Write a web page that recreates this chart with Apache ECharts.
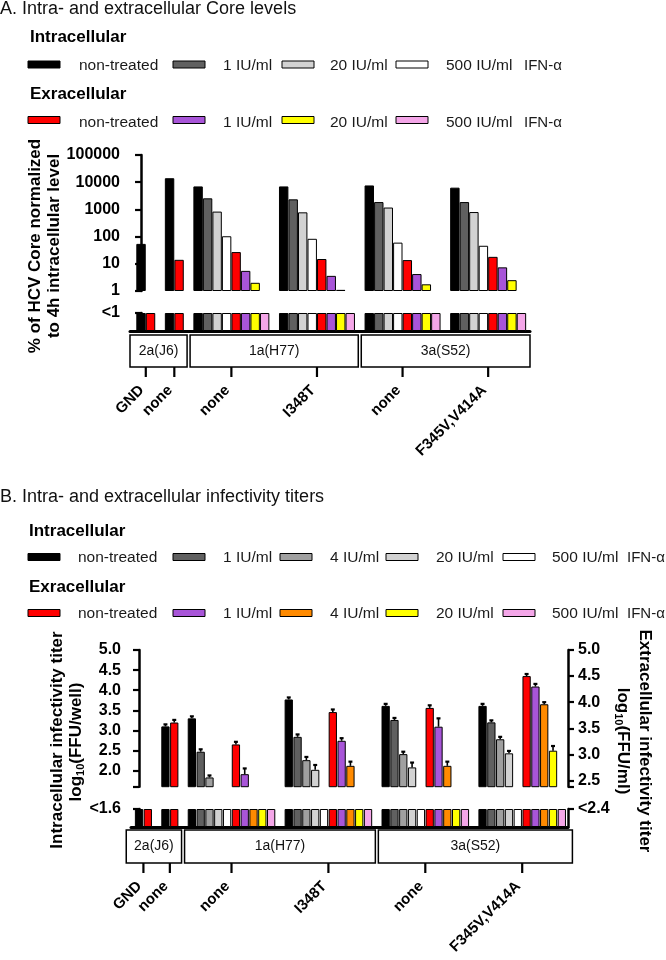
<!DOCTYPE html>
<html><head><meta charset="utf-8">
<script src="https://cdn.jsdelivr.net/npm/echarts@6/dist/echarts.min.js"></script>
<style>html,body{margin:0;padding:0;background:#fff}#c{width:666px;height:960px}</style>
</head><body><div id="c"></div>
<script>
// ================= DATA =================
const groupLabels = ['GND', 'none', 'none', 'I348T', 'none', 'F345V,V414A'];
const groupStrain = ['2a(J6)', '2a(J6)', '1a(H77)', '1a(H77)', '3a(S52)', '3a(S52)'];
const strains = ['2a(J6)', '1a(H77)', '3a(S52)'];

// Panel A: % of HCV Core normalized to 4h intracellular level
// 0 = below 1 ("<1"), null = not tested
const coreIntraNT  = [54, 14000, 7000, 7000, 7600, 6300];
const coreIntra1   = [null, null, 2550, 2340, 1860, 1860];
const coreIntra20  = [null, null, 830, 780, 1170, 800];
const coreIntra500 = [null, null, 103, 83, 60, 46];
const coreExtraNT  = [0, 14, 27, 15, 13.7, 18];
const coreExtra1   = [null, null, 5.5, 3.6, 4.2, 7.4];
const coreExtra20  = [null, null, 2.0, 1.1, 1.76, 2.5];
const coreExtra500 = [null, null, 0, 0, 0, 0];
const coreLegend = ['non-treated', '1 IU/ml', '20 IU/ml', '500 IU/ml'];

// Panel B: log10 infectivity titers (0 = below detection, null = not tested)
const titIntraNT  = [0, 3.10, 3.30, 3.77, 3.61, 3.61];
const titIntra1   = [null, null, 2.47, 2.84, 3.26, 3.20];
const titIntra4   = [null, null, 1.83, 2.26, 2.41, 2.78];
const titIntra20  = [null, null, 0, 2.02, 2.08, 2.43];
const titIntra500 = [null, null, 0, 0, 0, 0];
const titExtraNT  = [0, 3.61, 3.19, 3.81, 3.89, 4.50];
const titExtra1   = [null, null, 2.62, 3.26, 3.53, 4.30];
const titExtra4   = [null, null, 0, 2.78, 2.78, 3.96];
const titExtra20  = [null, null, 0, 0, 0, 3.07];
const titExtra500 = [null, null, 0, 0, 0, 0];
// upper error (SEM) of the titers
const errIntraNT  = [0, 0.05, 0.05, 0.05, 0.05, 0.05];
const errIntra1   = [null, null, 0.06, 0.06, 0.05, 0.05];
const errIntra4   = [null, null, 0.05, 0.08, 0.06, 0.06];
const errIntra20  = [null, null, 0, 0.12, 0.12, 0.06];
const errIntra500 = [null, null, 0, 0, 0, 0];
const errExtraNT  = [0, 0.05, 0.05, 0.05, 0.05, 0.04];
const errExtra1   = [null, null, 0.11, 0.05, 0.16, 0.05];
const errExtra4   = [null, null, 0, 0.08, 0.08, 0.04];
const errExtra20  = [null, null, 0, 0, 0, 0.09];
const errExtra500 = [null, null, 0, 0, 0, 0];
const titLegend = ['non-treated', '1 IU/ml', '4 IU/ml', '20 IU/ml', '500 IU/ml'];

const coreTicks = [1, 10, 100, 1000, 10000, 100000];
const titLeftTicks = [2.0, 2.5, 3.0, 3.5, 4.0, 4.5, 5.0];
const titRightTicks = [2.5, 3.0, 3.5, 4.0, 4.5, 5.0];

// ================= STYLE / LAYOUT =================
const FONT = "'Liberation Sans', Arial, Helvetica, sans-serif";
const coreIntraColors = ['#000000', '#606060', '#d2d2d2', '#ffffff'];
const coreExtraColors = ['#ff0000', '#a855d8', '#ffff00', '#f4a6e8'];
const titIntraColors = ['#000000', '#606060', '#a0a0a0', '#d2d2d2', '#ffffff'];
const titExtraColors = ['#ff0000', '#a855d8', '#ff8a00', '#ffff00', '#f4a6e8'];

function assignSlots(list) {
  const nG = list[0].length;
  const slots = list.map(() => new Array(nG).fill(null));
  const ranges = [];
  let s = 0;
  for (let g = 0; g < nG; g++) {
    if (g > 0) s += 1;
    const first = s;
    list.forEach((arr, k) => { if (arr[g] !== null) { slots[k][g] = s; s++; } });
    ranges.push([first, s - 1]);
  }
  return { slots, ranges, total: s };
}

const aList = [coreIntraNT, coreIntra1, coreIntra20, coreIntra500, coreExtraNT, coreExtra1, coreExtra20, coreExtra500];
const aColors = coreIntraColors.concat(coreExtraColors);
const A = assignSlots(aList);
const bList = [titIntraNT, titIntra1, titIntra4, titIntra20, titIntra500, titExtraNT, titExtra1, titExtra4, titExtra20, titExtra500];
const bErr = [errIntraNT, errIntra1, errIntra4, errIntra20, errIntra500, errExtraNT, errExtra1, errExtra4, errExtra20, errExtra500];
const bColors = titIntraColors.concat(titExtraColors);
const B = assignSlots(bList);

const A_XMIN = -1.16, A_XMAX = A.total - 1 + 0.9;
const B_XMIN = -0.91, B_XMAX = B.total - 1 + 0.7;

const series = [];
function bar(data, color, xi, yi, gap) {
  return { type: 'bar', data, xAxisIndex: xi, yAxisIndex: yi, barGap: '-100%', barCategoryGap: gap,
    itemStyle: { color, borderColor: '#000', borderWidth: 1 }, silent: true, clip: true };
}
aList.forEach((arr, k) => {
  const up = [], low = [];
  arr.forEach((v, g) => { const s = A.slots[k][g]; if (s === null) return; low.push([s, 1]); if (v >= 1) up.push([s, v]); });
  series.push(bar(up, aColors[k], 0, 0, '1%'));
  series.push(bar(low, aColors[k], 1, 1, '1%'));
});
const errIntraData = [], errExtraData = [];
bList.forEach((arr, k) => {
  const isExtra = k >= 5;
  const up = [], low = [];
  arr.forEach((v, g) => {
    const s = B.slots[k][g]; if (s === null) return;
    low.push([s, 1]);
    if (v > 0) {
      up.push([s, v]);
      const e = bErr[k][g];
      if (e > 0) (isExtra ? errExtraData : errIntraData).push([s, v, e]);
    }
  });
  series.push(bar(up, bColors[k], 2, isExtra ? 3 : 2, '6%'));
  series.push(bar(low, bColors[k], 3, 4, '6%'));
});
function errRender(params, api) {
  const x = api.value(0), v = api.value(1), e = api.value(2);
  const p0 = api.coord([x, v]), p1 = api.coord([x, v + e]);
  const w = api.size([1, 0])[0] * 0.45;
  return { type: 'group', children: [
    { type: 'line', shape: { x1: p0[0], y1: p0[1], x2: p1[0], y2: p1[1] }, style: { stroke: '#000', lineWidth: 1.6 } },
    { type: 'line', shape: { x1: p1[0] - w / 2, y1: p1[1], x2: p1[0] + w / 2, y2: p1[1] }, style: { stroke: '#000', lineWidth: 2.2 } }
  ] };
}
series.push({ type: 'custom', xAxisIndex: 2, yAxisIndex: 2, data: errIntraData, renderItem: errRender, z: 5, silent: true });
series.push({ type: 'custom', xAxisIndex: 2, yAxisIndex: 3, data: errExtraData, renderItem: errRender, z: 5, silent: true });

const axLine = { show: true, lineStyle: { color: '#000', width: 2.5 } };
const axTick = (vals) => ({ show: true, length: 6, lineStyle: { color: '#000', width: 2.2 }, customValues: vals });
const axLab = (vals, fmt) => ({ show: true, color: '#000', fontFamily: FONT, fontWeight: 'bold', fontSize: 16, margin: 10, customValues: vals, formatter: fmt });
const hiddenX = (gi, min, max) => ({ type: 'value', gridIndex: gi, min, max, show: false });
const baseX = (gi, min, max) => ({ type: 'value', gridIndex: gi, min, max, axisLine: { show: true, onZero: false, lineStyle: { color: '#000', width: 3 } },
  axisTick: { show: false }, axisLabel: { show: false }, splitLine: { show: false } });

const option = {
  animation: false,
  backgroundColor: '#fff',
  grid: [
    { left: 130, top: 155, width: 400, height: 136 },
    { left: 130, top: 313, width: 400, height: 18 },
    { left: 131, top: 650, width: 437, height: 136.7 },
    { left: 131, top: 809, width: 437, height: 18 }
  ],
  xAxis: [
    hiddenX(0, A_XMIN, A_XMAX),
    baseX(1, A_XMIN, A_XMAX),
    hiddenX(2, B_XMIN, B_XMAX),
    baseX(3, B_XMIN, B_XMAX)
  ],
  yAxis: [
    { type: 'log', logBase: 10, gridIndex: 0, min: 1, max: 100000, axisLine: axLine, axisTick: axTick(coreTicks),
      axisLabel: axLab(coreTicks, v => String(Math.round(v))), splitLine: { show: false } },
    { type: 'value', gridIndex: 1, min: 0, max: 1, axisLine: axLine, axisTick: axTick([1]),
      axisLabel: axLab([1], () => '<1'), splitLine: { show: false } },
    { type: 'value', gridIndex: 2, position: 'left', min: 1.6, max: 5.0, axisLine: axLine, axisTick: axTick([1.6].concat(titLeftTicks)),
      axisLabel: axLab(titLeftTicks, v => v.toFixed(1)), splitLine: { show: false } },
    { type: 'value', gridIndex: 2, position: 'right', min: 2.38, max: 5.0, axisLine: axLine, axisTick: axTick([2.38].concat(titRightTicks)),
      axisLabel: axLab(titRightTicks, v => v.toFixed(1)), splitLine: { show: false } },
    { type: 'value', gridIndex: 3, position: 'left', min: 0, max: 1, axisLine: axLine, axisTick: axTick([1]),
      axisLabel: axLab([1], () => '<1.6'), splitLine: { show: false } },
    { type: 'value', gridIndex: 3, position: 'right', min: 0, max: 1, axisLine: axLine, axisTick: axTick([1]),
      axisLabel: axLab([1], () => '<2.4'), splitLine: { show: false } }
  ],
  series
};

const chart = echarts.init(document.getElementById('c'));
chart.setOption(option);

// ================= ANNOTATIONS =================
const G = [];
function txt(text, x, y, o) {
  o = o || {};
  G.push({ type: 'text', x, y, rotation: o.rot || 0, z: 10, silent: true,
    style: { text, x: 0, y: 0, fill: o.color || '#111', fontFamily: FONT, fontSize: o.size || 16, fontWeight: o.weight || 'normal',
      align: o.align || 'left', textAlign: o.align || 'left', verticalAlign: 'middle', textVerticalAlign: 'middle', rich: o.rich } });
}
function legendRow(labels, colors, swX, txX, ifnX, ySw, yTx) {
  labels.forEach((l, i) => {
    G.push({ type: 'rect', shape: { x: swX[i], y: ySw - 3.5, width: 32, height: 7 }, style: { fill: colors[i], stroke: '#000', lineWidth: 1 }, z: 10, silent: true });
    txt(l, txX[i], yTx, { size: 15.5, color: '#1a1a1a' });
  });
  txt('IFN-\u03b1', ifnX, yTx, { size: 15, color: '#1a1a1a' });
}
// Panel A header
txt('A. Intra- and extracellular Core levels', 0, 9, { size: 18 });
txt('Intracellular', 30, 37.5, { size: 17, weight: 'bold', color: '#000' });
legendRow(coreLegend, coreIntraColors, [28, 173, 282, 396], [79, 223, 330, 446], 524, 64.5, 66);
txt('Exracellular', 30, 94, { size: 17, weight: 'bold', color: '#000' });
legendRow(coreLegend, coreExtraColors, [28, 173, 282, 396], [79, 223, 330, 446], 524, 120, 122.5);
// Panel B header
txt('B. Intra- and extracellular infectivity titers', 0, 497, { size: 18 });
txt('Intracellular', 29, 531, { size: 17, weight: 'bold', color: '#000' });
legendRow(titLegend, titIntraColors, [28, 173, 280, 386, 503], [78, 223, 330, 436, 552], 627, 557, 557.5);
txt('Exracellular', 29, 587, { size: 17, weight: 'bold', color: '#000' });
legendRow(titLegend, titExtraColors, [28, 173, 280, 386, 503], [78, 223, 330, 436, 552], 627, 613, 613.5);

// axis titles
const bold17 = { size: 17, weight: 'bold', color: '#000', align: 'center' };
txt('% of HCV Core normalized', 35, 246, Object.assign({ rot: Math.PI / 2 }, bold17));
txt('to 4h intracellular level', 54, 246, Object.assign({ rot: Math.PI / 2 }, bold17));
txt('Intracellular infectivity titer', 57, 740, Object.assign({ rot: Math.PI / 2 }, bold17));
const subRich = { a: { fontSize: 17, fontWeight: 'bold', fontFamily: FONT, fill: '#000', color: '#000' },
  s: { fontSize: 11, fontWeight: 'bold', fontFamily: FONT, fill: '#000', color: '#000', padding: [9, 0, 0, 0] } };
txt('{a|log}{s|10}{a|(FFU/well)}', 76, 742, Object.assign({ rot: Math.PI / 2, rich: subRich }, bold17));
txt('Extracellular infectivity titer', 645, 741, Object.assign({ rot: -Math.PI / 2 }, bold17));
txt('{a|log}{s|10}{a|(FFU/ml)}', 623, 741, Object.assign({ rot: -Math.PI / 2, rich: subRich }, bold17));

// strain boxes, group ticks and group labels, positioned through the x axes
function panelAnnot(P, xi, xStart, xEnd, boxTop, boxH) {
  const px = s => chart.convertToPixel({ xAxisIndex: xi }, s);
  const boxBottom = boxTop + boxH;
  strains.forEach((st, si) => {
    const gs = groupStrain.map((v, i) => v === st ? i : -1).filter(i => i >= 0);
    const first = P.ranges[gs[0]][0], last = P.ranges[gs[gs.length - 1]][1];
    const x0 = si === 0 ? px(xStart) : px(first - 1) + 1.5;
    const x1 = si === strains.length - 1 ? px(xEnd) : px(last + 1) - 1.5;
    G.push({ type: 'rect', shape: { x: x0, y: boxTop, width: x1 - x0, height: boxH }, style: { fill: '#fff', stroke: '#000', lineWidth: 1.5 }, z: 10, silent: true });
    txt(st, (x0 + x1) / 2, boxTop + boxH / 2, { size: 14, align: 'center', color: '#111' });
  });
  groupLabels.forEach((gl, g) => {
    const cx = (px(P.ranges[g][0]) + px(P.ranges[g][1])) / 2;
    G.push({ type: 'line', shape: { x1: cx, y1: boxBottom, x2: cx, y2: boxBottom + 10 }, style: { stroke: '#000', lineWidth: 2.2 }, z: 10, silent: true });
    txt(gl, cx - 4, boxBottom + 21, { size: 15, weight: 'bold', color: '#000', align: 'right', rot: Math.PI / 4 });
  });
}
panelAnnot(A, 1, A_XMIN, A_XMAX, 335, 32);
panelAnnot(B, 3, -1.45, B.total - 1 + 1.2, 830, 33);

chart.setOption({ graphic: { elements: G } });
</script>
</body></html>
